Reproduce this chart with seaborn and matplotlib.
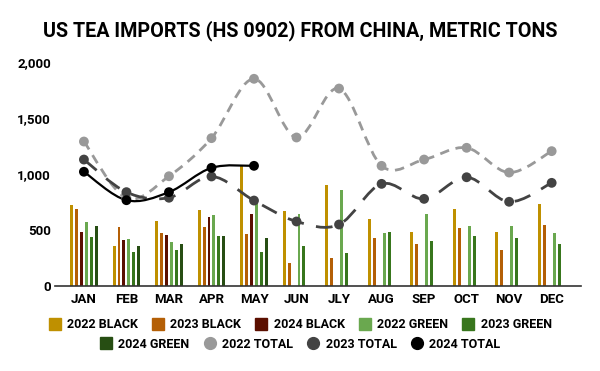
import numpy as np
import pandas as pd
import matplotlib
matplotlib.use('Agg')
import matplotlib.pyplot as plt
import seaborn as sns
from matplotlib.path import Path
from matplotlib.patches import PathPatch
from matplotlib.lines import Line2D

# data (metric tons)
months = ['JAN', 'FEB', 'MAR', 'APR', 'MAY', 'JUN', 'JLY', 'AUG', 'SEP', 'OCT', 'NOV', 'DEC']

black_2022 = [719, 359, 576, 683, 1067, 674, 906, 600, 478, 689, 478, 734]
black_2023 = [689, 531, 469, 531, 460, 207, 252, 430, 377, 519, 323, 549]
black_2024 = [478, 412, 457, 612, 647]
green_2022 = [567, 424, 397, 638, 739, 644, 859, 469, 644, 537, 537, 469]
green_2023 = [439, 308, 317, 448, 308, 359, 296, 478, 406, 448, 430, 377]
green_2024 = [537, 353, 379, 442, 430]

total_2022 = [1290, 785, 980, 1320, 1850, 1326, 1763, 1073, 1129, 1234, 1013, 1204]
total_2023 = [1129, 838, 788, 978, 763, 576, 549, 912, 778, 971, 752, 921]
total_2024 = [1020, 766, 838, 1055, 1073]

bar_names = ['2022 BLACK', '2023 BLACK', '2024 BLACK', '2022 GREEN', '2023 GREEN', '2024 GREEN']
bar_series = [black_2022, black_2023, black_2024, green_2022, green_2023, green_2024]
bar_colors = ['#bf9000', '#b45f06', '#5b0f00', '#6aa84f', '#38761d', '#274e13']

line_names = ['2022 TOTAL', '2023 TOTAL', '2024 TOTAL']
line_series = [total_2022, total_2023, total_2024]
line_colors = ['#999999', '#434343', '#000000']
line_dashes = [(0, (3.4, 2.4)), (0, (6, 4.5)), 'solid']

rows = []
for name, vals in zip(bar_names, bar_series):
    for m, v in zip(months, vals):
        rows.append({'month': m, 'series': name, 'tons': v})
df = pd.DataFrame(rows)

plt.rcParams['font.family'] = ['Roboto', 'DejaVu Sans']
plt.rcParams['font.weight'] = 'bold'

fig = plt.figure(figsize=(6, 3.71), dpi=100)
ax = fig.add_axes([55 / 600, 1 - 286 / 371, 526 / 600, 224 / 371])

sns.barplot(data=df, x='month', y='tons', hue='series', order=months,
            hue_order=bar_names, palette=bar_colors, width=0.7, gap=0.4,
            ax=ax, legend=False, saturation=1, zorder=2)


def smooth_path(xs, ys):
    # catmull-rom through the points, drawn as bezier curves
    pts = np.column_stack([xs, ys]).astype(float)
    verts = [pts[0]]
    codes = [Path.MOVETO]
    n = len(pts)
    for i in range(n - 1):
        p0 = pts[max(i - 1, 0)]
        p1 = pts[i]
        p2 = pts[i + 1]
        p3 = pts[min(i + 2, n - 1)]
        c1 = p1 + (p2 - p0) / 6.0
        c2 = p2 - (p3 - p1) / 6.0
        verts += [c1, c2, p2]
        codes += [Path.CURVE4] * 3
    return Path(verts, codes)


for name, vals, col, ls in zip(line_names, line_series, line_colors, line_dashes):
    xs = np.arange(len(vals))
    patch = PathPatch(smooth_path(xs, vals), facecolor='none', edgecolor=col,
                      lw=2 if name != '2024 TOTAL' else 1.6, linestyle=ls, zorder=3)
    ax.add_patch(patch)
    sns.scatterplot(x=xs, y=vals, color=col, s=50, edgecolor='none',
                    ax=ax, zorder=4, legend=False)

ax.set_xlim(-0.68, 11.69)
ax.set_ylim(0, 2000)
ax.set_yticks([0, 500, 1000, 1500, 2000])
ax.set_yticklabels(['0', '500', '1,000', '1,500', '2,000'])
ax.set_xticks(range(len(months)))
ax.set_xticklabels(months)
ax.set_xlabel('')
ax.set_ylabel('')
ax.tick_params(length=0, labelsize=9.5, colors='#000000')
ax.tick_params(axis='y', pad=3)
ax.tick_params(axis='x', pad=5)
for lab in ax.get_xticklabels() + ax.get_yticklabels():
    lab.set_fontweight('bold')
for s in ['top', 'right', 'left']:
    ax.spines[s].set_visible(False)
ax.spines['bottom'].set_color('#333333')
ax.spines['bottom'].set_linewidth(1.2)
ax.grid(False)

fig.text(0.5, 1 - 31 / 371, 'US TEA IMPORTS (HS 0902) FROM CHINA, METRIC TONS',
         ha='center', va='center', fontsize=14.2, fontweight='bold')

# legend in two centered rows
h1 = [Line2D([], [], marker='s', ls='none', color=c, markersize=8) for c in bar_colors]
h2 = [Line2D([], [], marker='o', ls='none', color=c, markersize=8.5) for c in line_colors]
hand1, lab1 = h1[:5], bar_names[:5]
hand2, lab2 = h1[5:] + h2, bar_names[5:] + line_names
leg1 = fig.legend(hand1, lab1, loc='center', bbox_to_anchor=(0.5, 1 - 325 / 371),
                  ncol=5, frameon=False, prop={'size': 9, 'weight': 'bold'},
                  handletextpad=0.5, columnspacing=1.1, handlelength=1.0)
leg2 = fig.legend(hand2, lab2, loc='center', bbox_to_anchor=(0.5, 1 - 344 / 371),
                  ncol=4, frameon=False, prop={'size': 9, 'weight': 'bold'},
                  handletextpad=0.5, columnspacing=1.1, handlelength=1.0)

fig.savefig('out.png', dpi=100)
